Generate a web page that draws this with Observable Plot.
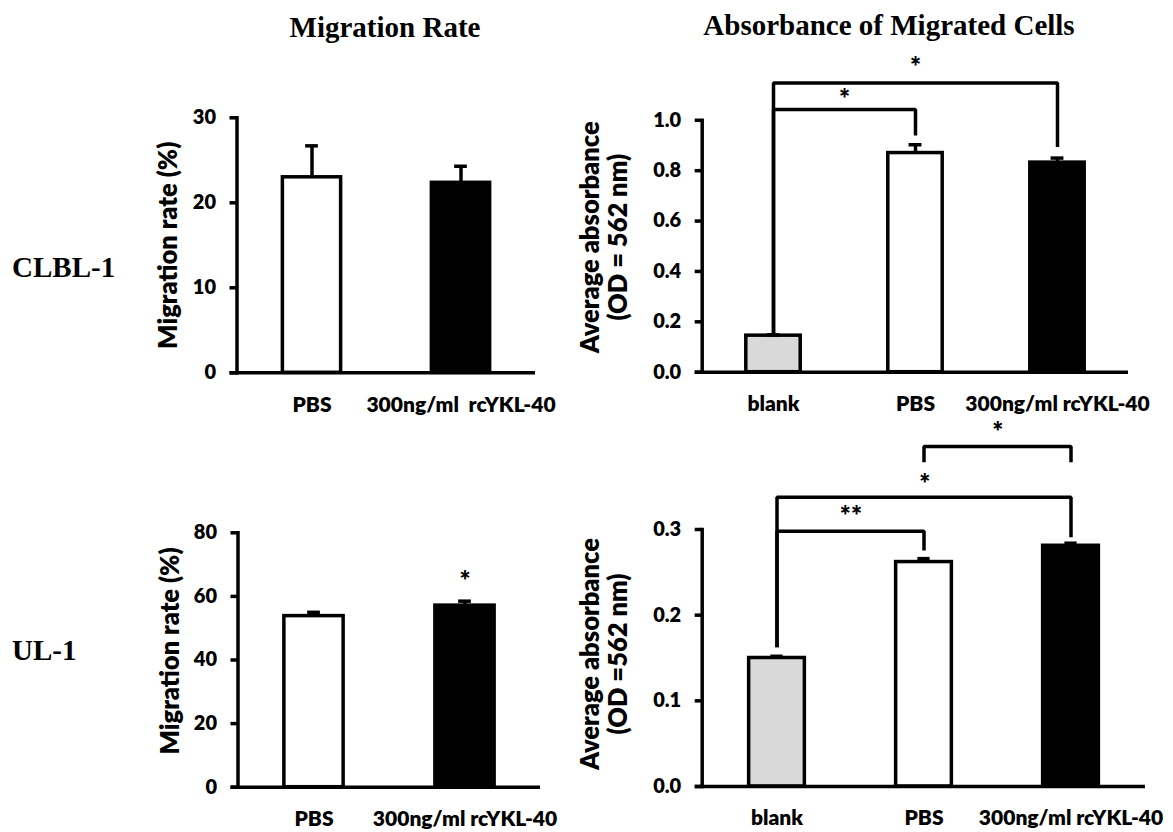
<!DOCTYPE html>
<html><head><meta charset="utf-8">
<script src="https://cdn.jsdelivr.net/npm/d3@7"></script>
<script src="https://cdn.jsdelivr.net/npm/@observablehq/plot@0.6"></script>
<style>
body{margin:0;background:#fff;}
#root{position:relative;width:1173px;height:832px;overflow:hidden;background:#fff;}
.t{position:absolute;font-family:"Liberation Serif","Times New Roman",serif;font-weight:bold;font-size:29px;white-space:nowrap;line-height:1;color:#000;}
.p{position:absolute;}
.p svg{overflow:visible;}
.p svg text{font-weight:800;}
</style></head><body><div id="root"></div>
<script>
// ---------- data ----------
const migGroups = ["PBS", "300ng/ml\u00a0 rcYKL-40"];
const migGroupsUL = ["PBS", "300ng/ml rcYKL-40"];
const absGroups = ["blank", "PBS", "300ng/ml rcYKL-40"];
const migFills = ["#ffffff", "#000000"];
const absFills = ["#d9d9d9", "#ffffff", "#000000"];

const clblMigration = [23.0, 22.35];
const clblMigrationErr = [3.7, 1.95];
const clblAbsorbance = [0.145, 0.870, 0.832];
const clblAbsorbanceErr = [0.003, 0.033, 0.018];

const ulMigration = [53.8, 57.1];
const ulMigrationErr = [1.2, 1.4];
const ulAbsorbance = [0.150, 0.262, 0.281];
const ulAbsorbanceErr = [0.002, 0.004, 0.003];

const migTicksCLBL = [0, 10, 20, 30];
const migTicksUL = [0, 20, 40, 60, 80];
const absTicksCLBL = [0, 0.2, 0.4, 0.6, 0.8, 1.0];
const absTicksUL = [0, 0.1, 0.2, 0.3];

// significance brackets: from group a to group b, legs down to a0 / b0
const clblAbsBrackets = [
  {a: "blank", b: "PBS", top: 1.0425, a0: 0.146, b0: 0.940, label: "*", ly: 1.099},
  {a: "blank", b: "300ng/ml rcYKL-40", top: 1.148, a0: 0.146, b0: 0.894, label: "*", ly: 1.2265}
];
const ulAbsBrackets = [
  {a: "blank", b: "PBS", top: 0.298, a0: 0.1626, b0: 0.2756, label: "**", ly: 0.3198},
  {a: "blank", b: "300ng/ml rcYKL-40", top: 0.3377, a0: 0.1626, b0: 0.291, label: "*", ly: 0.357},
  {a: "PBS", b: "300ng/ml rcYKL-40", top: 0.3969, a0: 0.3786, b0: 0.3786, label: "*", ly: 0.4179}
];
const ulMigStars = [{g: "300ng/ml rcYKL-40", y: 66.0, label: "*"}];

const FONT = "Lato, 'Open Sans', sans-serif";
const SW = 3.5;
const W = 800;
const root = document.getElementById("root");

function addText(txt, x, y, anchor) {
  const d = document.createElement("div");
  d.className = "t";
  d.textContent = txt;
  d.style.left = x + "px";
  d.style.top = y + "px";
  d.style.transform = anchor === "center" ? "translate(-50%,-50%)" : "translate(0,-50%)";
  root.appendChild(d);
}

function panel(o) {
  const {groups, values, errs, fills, yMax, ticks, fmt, yLabel, labelDx, labelDy,
         box, frame, barWidth, brackets = [], stars = []} = o;
  const rows = groups.map((g, i) => ({g, v: values[i], e: errs[i], fill: fills[i]}));
  const step = (frame.r - frame.l) / groups.length;
  const inset = (step - (barWidth - SW)) / 2;
  const capInset = (step - 13) / 2;
  const idx = (g) => groups.indexOf(g);
  const pts = [];
  brackets.forEach((b, i) => {
    pts.push({z: i, x: b.a, y: b.a0}, {z: i, x: b.a, y: b.top}, {z: i, x: b.b, y: b.top}, {z: i, x: b.b, y: b.b0});
  });
  const starMarks = brackets.map(b => Plot.text([b], {x: "a", y: "ly", text: "label", fontSize: 26,
    fontWeight: W, dy: 4, dx: (idx(b.b) - idx(b.a)) * step / 2}));
  const marks = [
    Plot.barY(rows, {x: "g", y: "v", fill: "fill", stroke: "#000", strokeWidth: SW, insetLeft: inset, insetRight: inset}),
    Plot.ruleX(rows, {x: "g", y1: "v", y2: d => d.v + d.e, strokeWidth: SW}),
    Plot.tickY(rows, {x: "g", y: d => d.v + d.e, strokeWidth: SW, insetLeft: capInset, insetRight: capInset}),
    Plot.frame({anchor: "left", strokeWidth: SW}),
    Plot.ruleY([0], {strokeWidth: SW, insetLeft: -7}),
    Plot.axisY({ticks, tickFormat: fmt, tickSize: 7, tickPadding: 14, strokeWidth: SW,
                fontSize: 20, fontWeight: W, label: null}),
    Plot.axisX({tickSize: 0, tickPadding: 24, fontSize: 21, fontWeight: W, label: null}),
    Plot.text([yLabel], {frameAnchor: "left", rotate: -90, dx: labelDx, dy: labelDy, textAnchor: "middle",
                         fontSize: 25.5, fontWeight: W, lineHeight: 1.1, lineAnchor: "middle"}),
    Plot.line(pts, {x: "x", y: "y", z: "z", strokeWidth: SW, strokeLinejoin: "miter", strokeLinecap: "butt"}),
    ...starMarks,
    Plot.text(stars, {x: "g", y: "y", text: "label", fontSize: 26, fontWeight: W, dy: 4})
  ];

  const chart = Plot.plot({
    width: box.w, height: box.h,
    marginLeft: frame.l - box.x, marginRight: box.x + box.w - frame.r,
    marginTop: frame.t - box.y, marginBottom: box.y + box.h - frame.b,
    style: {fontFamily: FONT, color: "#000", background: "transparent", overflow: "visible"},
    x: {type: "band", domain: groups, padding: 0},
    y: {domain: [0, yMax]},
    color: {type: "identity"},
    marks
  });
  const wrap = document.createElement("div");
  wrap.className = "p";
  wrap.style.left = box.x + "px";
  wrap.style.top = box.y + "px";
  wrap.appendChild(chart);
  root.appendChild(wrap);
}

const f0 = d3.format("d"), f1 = d3.format(".1f");

panel({groups: migGroups, values: clblMigration, errs: clblMigrationErr, fills: migFills,
  yMax: 30, ticks: migTicksCLBL, fmt: f0, yLabel: "Migration rate (%)", labelDx: -68.5, labelDy: 0,
  box: {x: 0, y: 0, w: 570, h: 440}, frame: {l: 236.5, r: 535, t: 117.3, b: 372.3}, barWidth: 62});

panel({groups: absGroups, values: clblAbsorbance, errs: clblAbsorbanceErr, fills: absFills,
  yMax: 1.0, ticks: absTicksCLBL, fmt: f1, yLabel: "Average absorbance\n(OD = 562 nm)", labelDx: -98, labelDy: -9,
  box: {x: 570, y: 0, w: 603, h: 440}, frame: {l: 701.7, r: 1128, t: 119.8, b: 371.7}, barWidth: 58,
  brackets: clblAbsBrackets});

panel({groups: migGroupsUL, values: ulMigration, errs: ulMigrationErr, fills: migFills,
  yMax: 80, ticks: migTicksUL, fmt: f0, yLabel: "Migration rate (%)", labelDx: -67.5, labelDy: -9,
  box: {x: 0, y: 440, w: 570, h: 392}, frame: {l: 237.5, r: 540, t: 532.3, b: 786.7}, barWidth: 63,
  stars: ulMigStars});

panel({groups: absGroups, values: ulAbsorbance, errs: ulAbsorbanceErr, fills: absFills,
  yMax: 0.3, ticks: absTicksUL, fmt: f1, yLabel: "Average absorbance\n(OD =562 nm)", labelDx: -98, labelDy: -4,
  box: {x: 570, y: 440, w: 603, h: 392}, frame: {l: 701.7, r: 1145, t: 529, b: 786}, barWidth: 60,
  brackets: ulAbsBrackets});

addText("Migration Rate", 385, 27, "center");
addText("Absorbance of Migrated Cells", 889, 25, "center");
addText("CLBL-1", 12, 267, "left");
addText("UL-1", 12, 650, "left");
</script>
</body></html>
